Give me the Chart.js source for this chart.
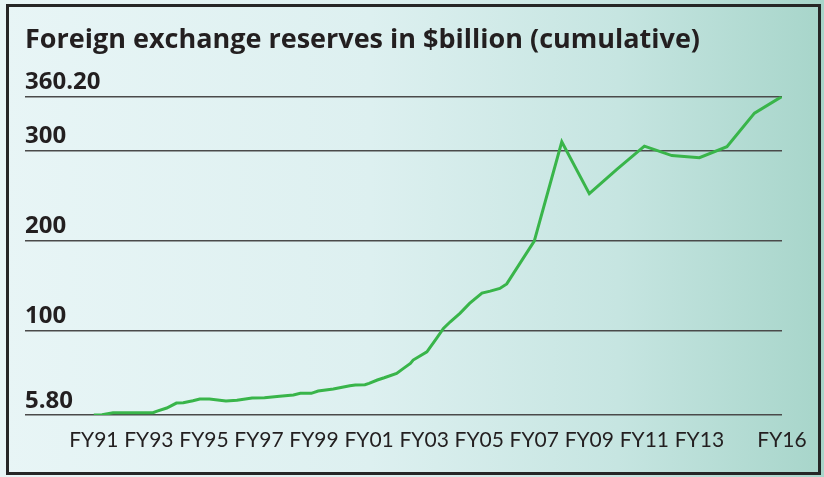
<!DOCTYPE html>
<html>
<head>
<meta charset="utf-8">
<script src="https://cdn.jsdelivr.net/npm/chart.js@4.4.1/dist/chart.umd.min.js"></script>
<style>
  html, body { margin: 0; padding: 0; }
  body {
    width: 824px; height: 477px; overflow: hidden; position: relative;
    background: linear-gradient(to right, #e8f5f6 0%, #ddf0f0 45%, #c6e5e1 75%, #a7d5ca 100%);
  }
  #chart { position: absolute; left: 0; top: 0; }
  #frame {
    position: absolute; left: 6px; top: 4px; width: 815px; height: 471px;
    box-sizing: border-box; border: 3px solid #262626; pointer-events: none;
  }
</style>
</head>
<body>
<canvas id="chart" width="824" height="477"></canvas>
<div id="frame"></div>
<script>
// Forex reserves, $bn (x = fiscal-year position)
const fyPositions = [
  1991.0, 1991.3, 1991.7, 1993.15, 1993.3, 1993.65, 1994.0, 1994.25, 1994.6, 1994.85,
  1995.2, 1995.8, 1996.2, 1996.75, 1997.2, 1997.75, 1998.25, 1998.5, 1998.9, 1999.15,
  1999.7, 2000.3, 2000.5, 2000.85, 2001.0, 2001.3, 2001.55, 2002.0, 2002.25, 2002.5,
  2002.6, 2003.1, 2003.45, 2003.7, 2003.95, 2004.3, 2004.65, 2005.1, 2005.4, 2005.75,
  2006.0, 2007.0, 2008.0, 2009.0, 2010.0, 2011.0, 2012.0, 2013.0, 2014.0, 2015.0, 2016.0
];
const reservesBn = [
  5.8, 6.0, 8.4, 8.4, 10.2, 13.6, 19.1, 19.5, 21.7, 23.6,
  23.6, 21.4, 22.1, 24.7, 25.0, 26.6, 28.0, 29.9, 29.9, 32.5,
  34.7, 38.4, 39.1, 39.5, 41.0, 44.7, 47.2, 52.1, 57.7, 63.2,
  66.9, 76.1, 91.0, 102.1, 109.5, 118.8, 129.9, 141.5, 143.6, 146.6,
  151.6, 199.2, 309.7, 252.0, 279.1, 304.8, 294.4, 292.0, 304.2, 341.6, 360.2
];

const xTickYears = [1991, 1993, 1995, 1997, 1999, 2001, 2003, 2005, 2007, 2009, 2011, 2013, 2016];
const xTickLabels = ['FY91', 'FY93', 'FY95', 'FY97', 'FY99', 'FY01', 'FY03', 'FY05', 'FY07', 'FY09', 'FY11', 'FY13', 'FY16'];
const yTickValues = [5.8, 100, 200, 300, 360.2];
const yTickLabels = ['5.80', '100', '200', '300', '360.20'];

const TEXT = '#231f20';

const points = fyPositions.map((x, i) => ({ x, y: reservesBn[i] }));

new Chart(document.getElementById('chart'), {
  type: 'line',
  data: {
    datasets: [{
      data: points,
      borderColor: '#39b54a',
      borderWidth: 3,
      pointRadius: 0,
      tension: 0,
      fill: false,
    }]
  },
  options: {
    responsive: false,
    animation: false,
    devicePixelRatio: 1,
    layout: { padding: { left: 25, right: 42, top: 0, bottom: 24 } },
    plugins: {
      legend: { display: false },
      tooltip: { enabled: false },
      title: {
        display: true,
        text: 'Foreign exchange reserves in $billion (cumulative)',
        align: 'start',
        color: TEXT,
        font: { family: 'Open Sans', size: 27, weight: 'bold', lineHeight: 1.2 },
        padding: { top: 24, bottom: 40 },
      },
    },
    scales: {
      x: {
        type: 'linear',
        min: 1988.5,
        max: 2016,
        afterBuildTicks: scale => { scale.ticks = xTickYears.map(v => ({ value: v })); },
        afterFit: scale => { scale.height = 38; },
        ticks: {
          autoSkip: false,
          maxRotation: 0,
          padding: 13,
          color: TEXT,
          font: { family: 'Lato', size: 21 },
          callback: v => xTickLabels[xTickYears.indexOf(v)],
        },
        grid: { display: false, drawTicks: false },
        border: { display: false },
      },
      y: {
        min: 5.8,
        max: 360.2,
        afterBuildTicks: scale => { scale.ticks = yTickValues.map(v => ({ value: v })); },
        afterFit: scale => { scale.width = 0; },
        ticks: {
          mirror: true,
          padding: 0,
          labelOffset: -14,
          color: TEXT,
          font: { family: 'Open Sans', size: 24, weight: 'bold' },
          callback: v => yTickLabels[yTickValues.indexOf(v)],
        },
        grid: { color: '#4a4a4a', lineWidth: 1.5, drawTicks: false },
        border: { display: false },
      },
    },
  },
});
</script>
</body>
</html>
